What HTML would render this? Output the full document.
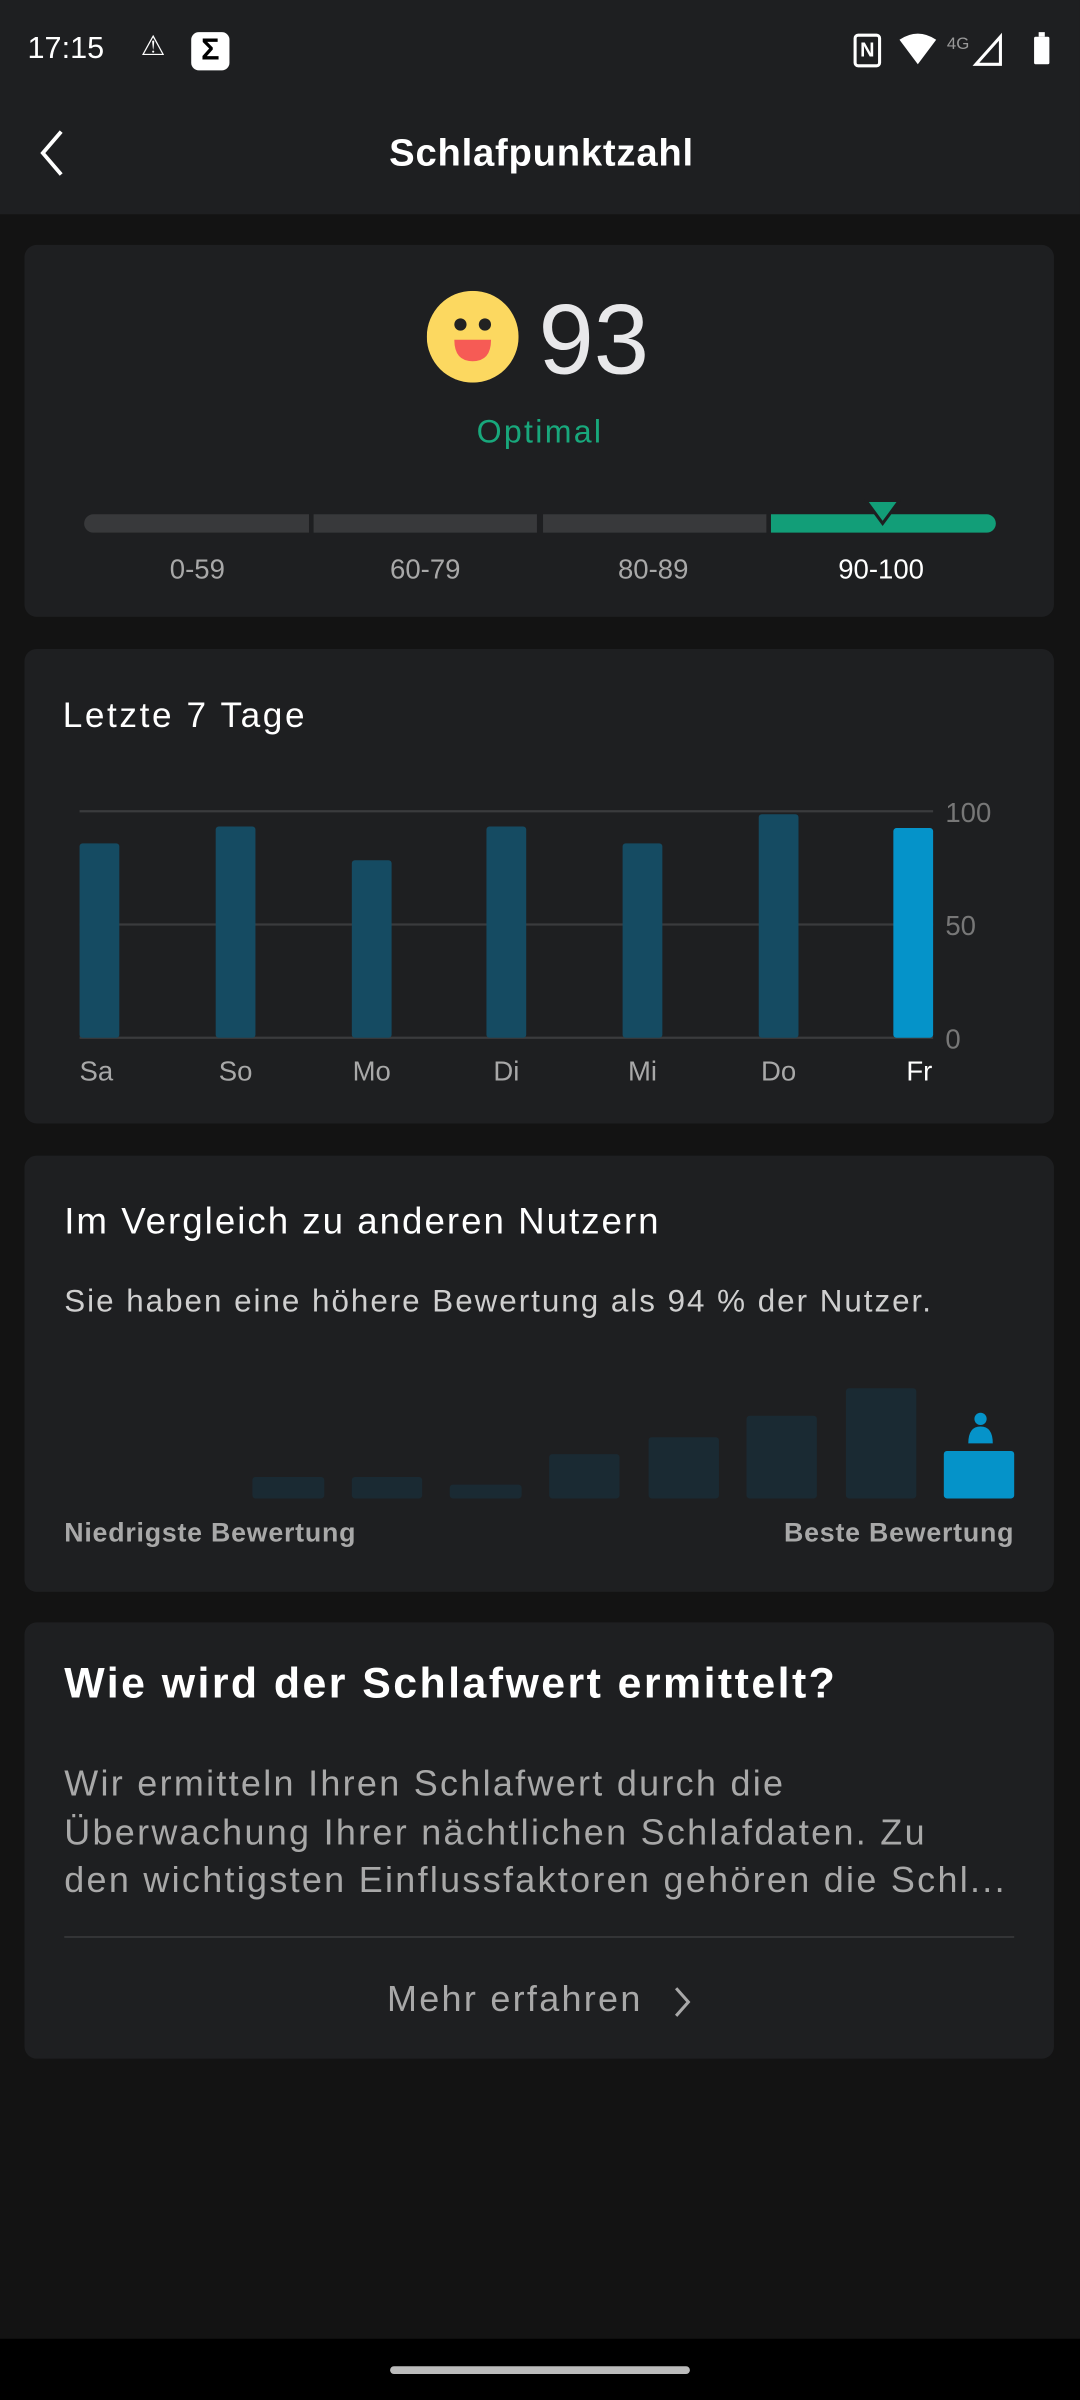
<!DOCTYPE html>
<html><head><meta charset="utf-8"><style>
html,body{margin:0;padding:0;background:#131313;width:1080px;height:2400px;overflow:hidden}
#w{position:absolute;left:0;top:0;width:706px;height:1568px;transform:scale(1.5297,1.5306);transform-origin:0 0;font-family:"Liberation Sans",sans-serif;color:#e8e8e8}
.a{position:absolute;white-space:nowrap}
.card{position:absolute;left:16px;width:673px;background:#1e1f21;border-radius:8px}
.c{transform:translateX(-50%)}
</style></head><body><div id="w">
<div class="a" style="left:0;top:0;width:706px;height:140px;background:#1e1f21"></div>
<div class="a" style="left:18px;top:21px;font-size:20px;color:#fff">17:15</div>
<div class="a" style="left:92px;top:20px;font-size:18px;color:#fff">⚠</div>
<div class="a" style="left:125px;top:21px;width:25px;height:25px;background:#fff;border-radius:5px;color:#000;font-weight:bold;text-align:center;font-size:20px;line-height:25px">Σ</div>
<div class="a" style="left:558px;top:22px;width:18px;height:22px;border:2px solid #fff;box-sizing:border-box;border-radius:3px;font-size:13px;text-align:center;color:#fff;font-weight:bold;line-height:18px">N</div>
<svg class="a" style="left:586px;top:20px" width="110" height="26"><path d="M2 6 Q14 -2 26 6 L14 22Z" fill="#fff"/><text x="33" y="12" font-size="11" fill="#999" font-family="Liberation Sans">4G</text><path d="M52 22 L68 4 L68 22Z" fill="none" stroke="#fff" stroke-width="2"/><rect x="90" y="4" width="10" height="18" rx="1" fill="#fff"/><rect x="93" y="1" width="4" height="3" fill="#fff"/></svg>
<svg class="a" style="left:24px;top:84px" width="20" height="32"><path d="M16 2 L4 16 L16 30" fill="none" stroke="#fff" stroke-width="2.5"/></svg>
<div class="a c" style="left:354px;top:86px;font-size:25px;font-weight:bold;color:#fff;letter-spacing:0.5px">Schlafpunktzahl</div>

<div class="card" style="top:160px;height:243px"></div>
<svg class="a" style="left:279px;top:190px" width="60" height="60"><circle cx="30" cy="30" r="30" fill="#fcd860"/><circle cx="22" cy="22" r="4" fill="#222"/><circle cx="38" cy="22" r="4" fill="#222"/><path d="M18 32 L42 32 Q42 46 30 46 Q18 46 18 32Z" fill="#f65b55"/></svg>
<div class="a" style="left:352px;top:184px;font-size:65px;color:#e8e8ea">93</div>
<div class="a c" style="left:353px;top:271px;font-size:21px;color:#18a87c;letter-spacing:1.5px">Optimal</div>
<div class="a" style="left:55px;top:336px;width:147px;height:12px;background:#38393b;border-radius:6px 0 0 6px"></div>
<div class="a" style="left:205px;top:336px;width:146px;height:12px;background:#38393b"></div>
<div class="a" style="left:355px;top:336px;width:146px;height:12px;background:#38393b"></div>
<div class="a" style="left:504px;top:336px;width:147px;height:12px;background:#129e78;border-radius:0 6px 6px 0"></div>
<svg class="a" style="left:565px;top:326px" width="24" height="18"><path d="M1 1 L23 1 L12 16Z" fill="#129e78" stroke="#1e1f21" stroke-width="2"/></svg>
<div class="a c" style="left:129px;top:362px;font-size:18px;color:#a8a8a8">0-59</div>
<div class="a c" style="left:278px;top:362px;font-size:18px;color:#a8a8a8">60-79</div>
<div class="a c" style="left:427px;top:362px;font-size:18px;color:#a8a8a8">80-89</div>
<div class="a c" style="left:576px;top:362px;font-size:18px;color:#fff">90-100</div>

<div class="card" style="top:424px;height:310px"></div>
<div class="a" style="left:41px;top:454px;font-size:23px;color:#fff;letter-spacing:1.7px">Letzte 7 Tage</div>
<svg class="a" style="left:0;top:520px" width="706" height="200" font-family="Liberation Sans" font-size="18">
<g stroke="#3a3b3d" stroke-width="1.5"><line x1="52" x2="610" y1="10" y2="10"/><line x1="52" x2="610" y1="84" y2="84"/><line x1="52" x2="610" y1="158" y2="158"/></g>
<g fill="#777"><text x="618" y="17">100</text><text x="618" y="91">50</text><text x="618" y="165">0</text></g>
<g fill="#154b62"><rect x="52" y="31" width="26" height="127" rx="2"/><rect x="141" y="20" width="26" height="138" rx="2"/><rect x="230" y="42" width="26" height="116" rx="2"/><rect x="318" y="20" width="26" height="138" rx="2"/><rect x="407" y="31" width="26" height="127" rx="2"/><rect x="496" y="12" width="26" height="146" rx="2"/></g>
<rect x="584" y="21" width="26" height="137" rx="2" fill="#0593c9"/>
<g fill="#a8a8a8" text-anchor="middle"><text x="63" y="186">Sa</text><text x="154" y="186">So</text><text x="243" y="186">Mo</text><text x="331" y="186">Di</text><text x="420" y="186">Mi</text><text x="509" y="186">Do</text><text x="601" y="186" fill="#fff">Fr</text></g>
</svg>

<div class="card" style="top:755px;height:285px"></div>
<div class="a" style="left:42px;top:785px;font-size:24px;color:#fff;letter-spacing:1.3px">Im Vergleich zu anderen Nutzern</div>
<div class="a" style="left:42px;top:839px;font-size:20.5px;color:#cfcfcf;letter-spacing:1.3px">Sie haben eine höhere Bewertung als 94 % der Nutzer.</div>
<svg class="a" style="left:0;top:900px" width="706" height="90">
<g fill="#1a2a33"><rect x="165" y="65" width="47" height="14" rx="2"/><rect x="230" y="65" width="46" height="14" rx="2"/><rect x="294" y="70" width="47" height="9" rx="2"/><rect x="359" y="50" width="46" height="29" rx="2"/><rect x="424" y="39" width="46" height="40" rx="2"/><rect x="488" y="25" width="46" height="54" rx="2"/><rect x="553" y="7" width="46" height="72" rx="2"/></g>
<rect x="617" y="48" width="46" height="31" rx="2" fill="#0593c9"/>
<circle cx="641" cy="27" r="4" fill="#0593c9"/><path d="M633 43 Q633 32 641 32 Q649 32 649 43Z" fill="#0593c9"/>
</svg>
<div class="a" style="left:42px;top:991px;font-size:17.5px;font-weight:bold;color:#a8a8a8;letter-spacing:0.5px">Niedrigste Bewertung</div>
<div class="a" style="right:43px;top:991px;font-size:17.5px;font-weight:bold;color:#a8a8a8;letter-spacing:0.5px">Beste Bewertung</div>

<div class="card" style="top:1060px;height:285px"></div>
<div class="a" style="left:42px;top:1084px;font-size:28px;font-weight:bold;color:#fff;letter-spacing:1.6px">Wie wird der Schlafwert ermittelt?</div>
<div class="a" style="left:42px;top:1150px;font-size:23.5px;line-height:31.5px;color:#a8a8a8;letter-spacing:1.5px">Wir ermitteln Ihren Schlafwert durch die<br>Überwachung Ihrer nächtlichen Schlafdaten. Zu<br>den wichtigsten Einflussfaktoren gehören die Schl...</div>
<div class="a" style="left:42px;top:1265px;width:621px;height:1px;background:#3a3b3d"></div>
<div class="a" style="left:253px;top:1293px;font-size:23.5px;color:#a8a8a8;letter-spacing:1.5px">Mehr erfahren</div>
<svg class="a" style="left:438px;top:1296px" width="16" height="24"><path d="M4 3 L12 12 L4 21" fill="none" stroke="#a8a8a8" stroke-width="2"/></svg>

<div class="a" style="left:0;top:1528px;width:706px;height:40px;background:#000"></div>
<div class="a" style="left:255px;top:1546px;width:196px;height:5px;border-radius:3px;background:#bbb"></div>
</div></body></html>
